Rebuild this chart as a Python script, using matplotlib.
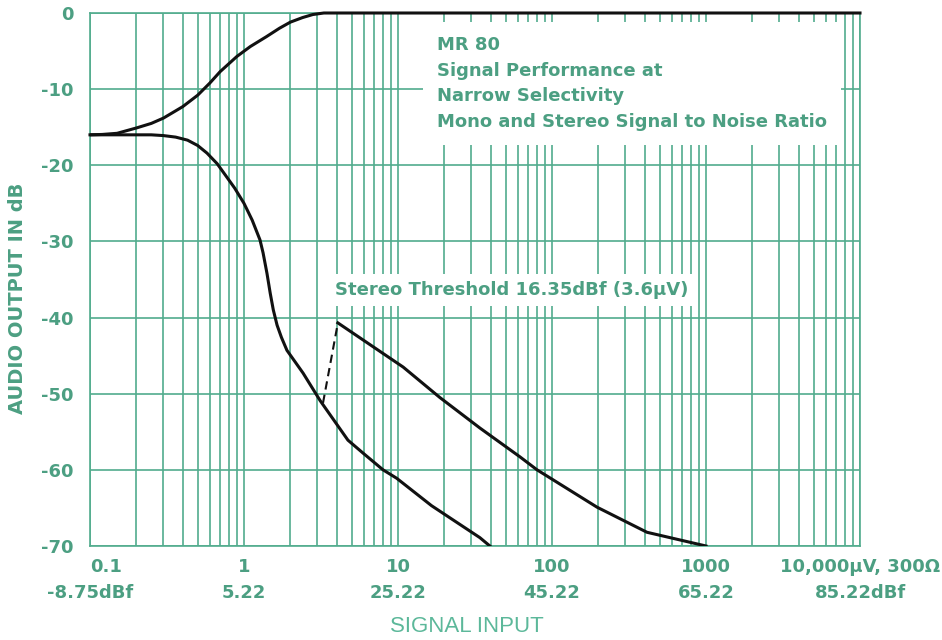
import matplotlib.pyplot as plt
from matplotlib.ticker import FixedLocator, NullFormatter

plt.rcParams['font.family'] = ['DejaVu Sans']

# data (x in microvolts, y in dB)
mono_x = [0.1, 0.12, 0.15, 0.2, 0.25, 0.3, 0.4, 0.5, 0.6, 0.7, 0.9, 1.1, 1.4, 1.7, 2.0,
          2.4, 2.8, 3.3, 10000]
mono_y = [-16, -15.95, -15.8, -15.1, -14.5, -13.8, -12.3, -10.8, -9.2, -7.7, -5.7, -4.4,
          -3.1, -2.0, -1.2, -0.6, -0.2, 0, 0]

noise_x = [0.1, 0.2, 0.25, 0.3, 0.36, 0.43, 0.5, 0.575, 0.67, 0.77, 0.87, 1.0, 1.13, 1.27,
           1.33, 1.41, 1.48, 1.55, 1.64, 1.75, 1.9, 2.42, 3.12, 4.73, 5.93, 8.0, 9.8, 16.5,
           34, 39.5]
noise_y = [-16, -16, -16.0, -16.1, -16.3, -16.7, -17.4, -18.4, -19.8, -21.5, -23.0, -25.0,
           -27.2, -29.8, -31.5, -34.2, -36.8, -39.0, -41.0, -42.6, -44.3, -47.3, -50.9,
           -56.1, -57.8, -60.0, -61.1, -64.7, -68.9, -70]

stereo_x = [4.07, 10.8, 18.7, 34, 62, 80, 196, 414, 1000]
stereo_y = [-40.7, -46.5, -50.5, -54.5, -58.3, -60.0, -64.9, -68.2, -70]

thresh_x = [3.26, 4.07]
thresh_y = [-51.2, -40.7]

xticks = [0.1, 1, 10, 100, 1000, 10000]
xlabels_uv = ['0.1', '1', '10', '100', '1000', '10,000\u03bcV, 300\u03a9']
xlabels_dbf = ['-8.75dBf', '5.22', '25.22', '45.22', '65.22', '85.22dBf']
yticks = [0, -10, -20, -30, -40, -50, -60, -70]

grid_c = '#52ac8d'
text_c = '#4c9f82'

fig = plt.figure(figsize=(9.42, 6.4), dpi=100)
ax = fig.add_axes([90 / 942, 1 - 546 / 640, 770 / 942, 533 / 640])
ax.set_xscale('log')
ax.set_xlim(0.1, 10000)
ax.set_ylim(-70, 0)

# grid
minor = [m * 10.0 ** d for d in range(-1, 4) for m in range(2, 10)]
ax.xaxis.set_major_locator(FixedLocator(xticks))
ax.xaxis.set_minor_locator(FixedLocator(minor))
ax.xaxis.set_minor_formatter(NullFormatter())
ax.set_yticks(yticks)
ax.grid(True, which='both', axis='x', color=grid_c, lw=1.2)
ax.grid(True, which='major', axis='y', color=grid_c, lw=1.2)
for s in ax.spines.values():
    s.set_color(grid_c)
    s.set_linewidth(1.2)
ax.tick_params(which='both', length=0)
ax.set_yticklabels([str(v) for v in yticks], color=text_c, fontsize=13, fontweight='bold')
ax.tick_params(axis='y', pad=12)
ax.set_xticklabels([])

# two-row x labels
for i, (x, a, b) in enumerate(zip(xticks, xlabels_uv, xlabels_dbf)):
    ax.text(x, -0.022, a, transform=ax.get_xaxis_transform(), ha='left' if i == 0 else 'center',
            va='top', color=text_c, fontsize=13, fontweight='bold')
    ax.text(x, -0.072, b, transform=ax.get_xaxis_transform(), ha='center', va='top',
            color=text_c, fontsize=13, fontweight='bold')

fig.text(18 / 942, 1 - 298 / 640, 'AUDIO OUTPUT IN dB', color=text_c, fontsize=14,
         fontweight='bold', rotation=90, ha='center', va='center')
fig.text(0.496, 0.004, 'SIGNAL INPUT', color='#5cb89a', fontsize=16, ha='center', va='bottom',
         family='Liberation Sans')

# curves
ax.plot(mono_x, mono_y, color='#111111', lw=2.2, clip_on=False, zorder=5, solid_joinstyle='round')
ax.plot(noise_x, noise_y, color='#111111', lw=2.2, zorder=5, solid_joinstyle='round')
ax.plot(stereo_x, stereo_y, color='#111111', lw=2.2, zorder=5, solid_joinstyle='round')
ax.plot(thresh_x, thresh_y, color='#111111', lw=1.5, ls=(0, (4, 2.5)), zorder=5)

# annotations
ax.text(17.9, -3.0,
        'MR 80\nSignal Performance at\nNarrow Selectivity\nMono and Stereo Signal to Noise Ratio',
        ha='left', va='top', color=text_c, fontsize=13, fontweight='bold', linespacing=1.55,
        bbox=dict(facecolor='white', edgecolor='none', pad=10), zorder=4)
ax.text(3.9, -36.4, 'Stereo Threshold 16.35dBf (3.6\u03bcV)', ha='left', va='center',
        color=text_c, fontsize=13, fontweight='bold',
        bbox=dict(facecolor='white', edgecolor='none', pad=5), zorder=4)

fig.savefig('out.png', dpi=100)
